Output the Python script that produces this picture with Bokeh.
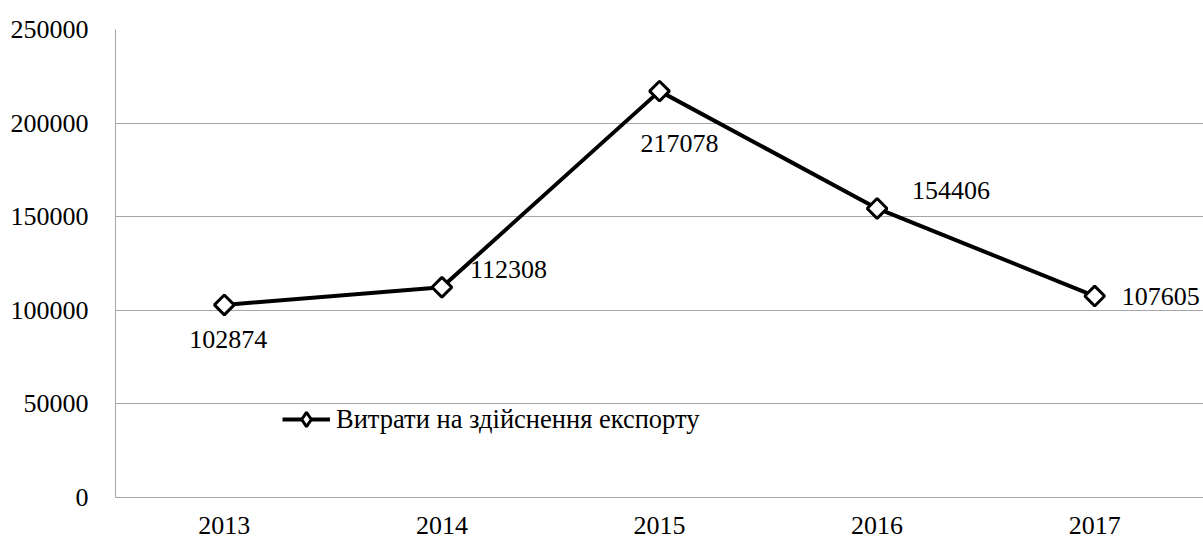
import math
from bokeh.plotting import figure
from bokeh.models import ColumnDataSource, Range1d, SingleIntervalTicker, BasicTickFormatter, Legend
from bokeh.core.properties import value
from bokeh.embed import file_html
from bokeh.resources import INLINE

# ---- data ----
years = ["2013", "2014", "2015", "2016", "2017"]
costs = [102874, 112308, 217078, 154406, 107605]
series_name = "Витрати на здійснення експорту"

# ---- label placement styles (pixels) ----
label_dx = [4, 28, 20, 35, 27]
label_dy = [35, -18, 52, -18, 0]
label_align = ["center", "left", "center", "left", "left"]

FONT = "Liberation Serif"
GRID = "#a6a6a6"

src = ColumnDataSource(dict(
    x=years, y=costs, txt=[str(v) for v in costs],
    dx=label_dx, dy=label_dy, al=label_align,
))

p = figure(
    x_range=years, y_range=Range1d(0, 250000),
    width=1203, height=541, output_backend="svg", toolbar_location=None,
    min_border_left=115, min_border_right=0, min_border_top=29, min_border_bottom=44,
)
p.x_range.range_padding = 0
p.outline_line_color = None
p.background_fill_color = "white"
p.border_fill_color = "white"

ln = p.line("x", "y", source=src, line_color="black", line_width=4)
# diamond used for the legend swatch (hidden under the rotated-square markers in the plot)
lg_mark = p.scatter("x", "y", source=src, marker="diamond", size=8,
                    fill_color="white", line_color="black", line_width=3)
p.scatter("x", "y", source=src, marker="square", angle=math.pi / 4, size=14,
          fill_color="white", line_color="black", line_width=3)
p.text("x", "y", text="txt", source=src, x_offset="dx", y_offset="dy",
       text_align="al", text_baseline="middle",
       text_font=value(FONT), text_font_size="26px", text_color="black")

# axes
p.yaxis.ticker = SingleIntervalTicker(interval=50000)
p.yaxis.formatter = BasicTickFormatter(use_scientific=False)
for ax in (p.xaxis, p.yaxis):
    ax.major_tick_line_color = None
    ax.minor_tick_line_color = None
    ax.axis_line_color = GRID
    ax.axis_line_width = 1
    ax.major_label_text_font = FONT
    ax.major_label_text_font_size = "26px"
    ax.major_label_text_color = "black"
p.yaxis.major_label_standoff = 21
p.xaxis.major_label_standoff = 13

p.xgrid.grid_line_color = None
p.ygrid.grid_line_color = GRID
p.ygrid.grid_line_width = 1

legend = Legend(items=[(series_name, [ln, lg_mark])], location=(167, 60))
legend.border_line_color = None
legend.background_fill_alpha = 0
legend.padding = 0
legend.margin = 0
legend.glyph_width = 48
legend.glyph_height = 36
legend.label_height = 24
legend.label_standoff = 6
legend.label_text_font = FONT
legend.label_text_font_size = "26.5px"
legend.label_text_color = "black"
p.add_layout(legend, "center")

open("out.html", "w").write(file_html(p, INLINE))
